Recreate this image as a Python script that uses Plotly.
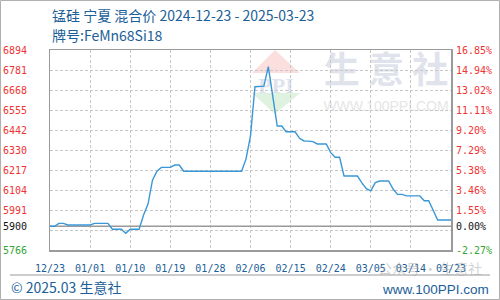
import plotly.graph_objects as go
import pandas as pd

# ---------------- data ----------------
start_date = "2024-12-23"
prices = [
    5900, 5900, 5916, 5916, 5907, 5907, 5907, 5907, 5907, 5907,   # d0-d9
    5916, 5916, 5916, 5916, 5883, 5883, 5883, 5860, 5883, 5883,   # d10-d19
    5883, 5963, 6025, 6160, 6210, 6232, 6232, 6232, 6245, 6245,   # d20-d29
    6210, 6210, 6210, 6210, 6210, 6210, 6210, 6210, 6210, 6210,   # d30-d39
    6210, 6210, 6210, 6210, 6280, 6410, 6687, 6687, 6690, 6800,   # d40-d49
    6630, 6465, 6465, 6433, 6433, 6433, 6396, 6381, 6380, 6377,   # d50-d59
    6364, 6364, 6364, 6315, 6289, 6289, 6183, 6183, 6183, 6183,   # d60-d69
    6145, 6112, 6100, 6146, 6155, 6155, 6155, 6110, 6080, 6080,   # d70-d79
    6071, 6071, 6071, 6071, 6044, 6044, 5990, 5935, 5935, 5935,   # d80-d89
    5935,                                                         # d90
]
dates = pd.date_range(start_date, periods=len(prices), freq="D")

base_price = 5900
x_tick_dates = ["2024-12-23", "2025-01-01", "2025-01-10", "2025-01-19", "2025-01-28",
                "2025-02-06", "2025-02-15", "2025-02-24", "2025-03-05", "2025-03-14",
                "2025-03-23"]
x_tick_labels = ["12/23", "01/01", "01/10", "01/19", "01/28", "02/06",
                 "02/15", "02/24", "03/05", "03/14", "03/23"]

y_grid = [5766.0, 5878.8, 5991.6, 6104.4, 6217.2, 6330.0,
          6442.8, 6555.6, 6668.4, 6781.2, 6894.0]
y_grid_labels = ["5766", "", "5991", "6104", "6217", "6330",
                 "6442", "6555", "6668", "6781", "6894"]
pct_labels = ["-2.27%", "", "1.55%", "3.46%", "5.38%", "7.29%",
              "9.20%", "11.11%", "13.02%", "14.94%", "16.85%"]
base_label = "5900"
base_pct_label = "0.00%"

title_line1 = "锰硅 宁夏 混合价 2024-12-23 - 2025-03-23"
title_line2 = "牌号:FeMn68Si18"
footer_left = "© 2025.03 生意社"
footer_right = "www.100PPI.com"

# ---------------- styles ----------------
RED = "#f03333"
GREEN = "#33a532"
BLACK = "#111111"
BLUE_TXT = "#1b5e98"
LINE = "#3a97d6"
TICK_FAMILY = "DejaVu Sans Mono"
TICK_SIZE = 10

# plot area in pixels: x 50..451, y 50..250
L, R, T, B = 50, 49, 50, 50
W, H = 500, 300
PW, PH = W - L - R, H - T - B


def px(x):
    return (x - L) / PW


def py(y):
    return (H - B - y) / PH


def label_color(val):
    if val < base_price:
        return GREEN
    if val == base_price:
        return BLACK
    return RED


yrange = [y_grid[0], y_grid[-1]]
xrange = [x_tick_dates[0], x_tick_dates[-1]]

fig = go.Figure()
fig.add_trace(go.Scatter(
    x=[dates[0], dates[-1]], y=[base_price, base_price], mode="lines",
    line=dict(color="#9a9a9a", width=1.6), hoverinfo="skip", showlegend=False))
fig.add_trace(go.Scatter(
    x=dates, y=prices, mode="lines", line=dict(color=LINE, width=1.4),
    showlegend=False))

shapes = []
shapes.append(dict(type="path", xref="paper", yref="paper", layer="below",
                   path=f"M {px(252)} {py(73)} L {px(275)} {py(50)} L {px(300)} {py(73)} Z",
                   fillcolor="#fbdede", line=dict(width=0)))
shapes.append(dict(type="path", xref="paper", yref="paper", layer="below",
                   path=f"M {px(252)} {py(93)} L {px(275)} {py(114)} L {px(300)} {py(93)} Z",
                   fillcolor="#dff1df", line=dict(width=0)))
shapes.append(dict(type="rect", xref="paper", yref="paper", layer="below",
                   x0=px(248), x1=px(304), y0=py(92), y1=py(74),
                   line=dict(width=0), fillcolor="rgba(0,0,0,0)",
                   label=dict(text="<b>PPI</b>", textposition="middle center",
                              font=dict(family="Liberation Serif", size=22, color="#dfe3ee"))))
shapes.append(dict(type="rect", xref="paper", yref="paper", layer="below",
                   x0=px(320), x1=px(452), y0=py(90), y1=py(55),
                   line=dict(width=0), fillcolor="rgba(0,0,0,0)",
                   label=dict(text="<b>生 意 社</b>", textposition="middle center",
                              font=dict(family="Noto Sans CJK SC", size=36, color="#e0e3ec"))))
shapes.append(dict(type="rect", xref="paper", yref="paper", layer="below",
                   x0=px(320), x1=px(452), y0=py(113), y1=py(97),
                   line=dict(width=0), fillcolor="rgba(0,0,0,0)",
                   label=dict(text="WWW.100PPI.COM", textposition="middle center",
                              font=dict(family="Liberation Sans", size=14, color="#e6e6e6"))))
shapes.append(dict(type="line", xref="paper", yref="paper",
                   x0=px(10), x1=px(490), y0=py(275), y1=py(275),
                   line=dict(color="#9a9a9a", width=1)))
shapes.append(dict(type="rect", xref="paper", yref="paper",
                   x0=px(0.5), x1=px(499.5), y0=py(299.5), y1=py(0.5),
                   line=dict(color="#b0b0b0", width=1), fillcolor="rgba(0,0,0,0)"))

annotations = [
    dict(text=title_line1, xref="paper", yref="paper", x=px(50), y=py(15),
         xanchor="left", yanchor="middle", showarrow=False,
         font=dict(family="Noto Sans CJK SC", size=14, color=BLUE_TXT)),
    dict(text=title_line2, xref="paper", yref="paper", x=px(50), y=py(35),
         xanchor="left", yanchor="middle", showarrow=False,
         font=dict(family="Noto Sans CJK SC", size=14, color=BLUE_TXT)),
    dict(text=footer_left, xref="paper", yref="paper", x=px(9), y=py(287),
         xanchor="left", yanchor="middle", showarrow=False,
         font=dict(family="Noto Sans CJK SC", size=14, color=BLUE_TXT)),
    dict(text=footer_right, xref="paper", yref="paper", x=px(491), y=py(289),
         xanchor="right", yanchor="middle", showarrow=False,
         font=dict(family="Liberation Sans", size=13.5, color=BLUE_TXT)),
    dict(text="公众号 · 生意社", xref="paper", yref="paper", x=px(376), y=py(268),
         xanchor="left", yanchor="middle", showarrow=False,
         font=dict(family="Noto Sans CJK SC", size=14, color="rgba(170,170,170,0.55)")),
]

# y labels as annotations (per-label colours)
for v, t in list(zip(y_grid, y_grid_labels)) + [(base_price, base_label)]:
    if t:
        annotations.append(dict(text=t, xref="paper", yref="y", x=px(29), y=v,
                                xanchor="right", yanchor="middle", showarrow=False,
                                font=dict(family=TICK_FAMILY, size=TICK_SIZE, color=label_color(v))))
for v, t in list(zip(y_grid, pct_labels)) + [(base_price, base_pct_label)]:
    if t:
        annotations.append(dict(text=t, xref="paper", yref="y", x=px(454), y=v,
                                xanchor="left", yanchor="middle", showarrow=False,
                                font=dict(family=TICK_FAMILY, size=TICK_SIZE, color=label_color(v))))

fig.update_layout(
    width=W, height=H, autosize=False,
    margin=dict(l=L, r=R, t=T, b=B, pad=0, autoexpand=False),
    paper_bgcolor="white", plot_bgcolor="white",
    showlegend=False, hovermode=False,
    xaxis=dict(
        type="date", range=xrange, tickmode="array", tickvals=x_tick_dates,
        ticktext=x_tick_labels, tickangle=0, automargin=False,
        tickfont=dict(family=TICK_FAMILY, size=TICK_SIZE, color=BLUE_TXT),
        ticks="outside", ticklen=8, tickcolor="rgba(0,0,0,0)",
        showgrid=True, gridcolor="#c8c8c8", griddash="3px,2px", gridwidth=1,
        showline=True, linecolor="#9a9a9a", linewidth=1.5, mirror=True,
        zeroline=False, fixedrange=True),
    yaxis=dict(
        range=yrange, tickmode="array", tickvals=y_grid, showticklabels=False,
        automargin=False, ticks="",
        showgrid=True, gridcolor="#c8c8c8", griddash="3px,2px", gridwidth=1,
        showline=True, linecolor="#9a9a9a", linewidth=1.5, mirror=True,
        zeroline=False, fixedrange=True),
    shapes=shapes, annotations=annotations,
)

fig.write_html("out.html", config={"displayModeBar": False, "staticPlot": True})
